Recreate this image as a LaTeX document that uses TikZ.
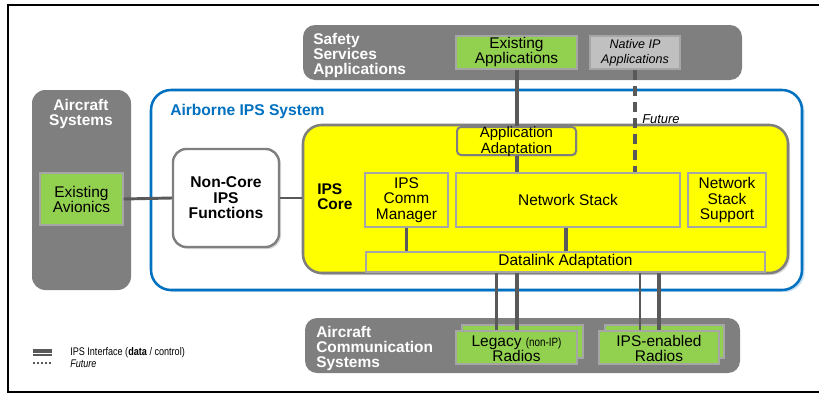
\documentclass[tikz,border=0pt]{standalone}
\usepackage{fontspec}
\setmainfont{Liberation Sans}
\newfontfamily\narrowfont[FakeStretch=0.82]{Liberation Sans}
\usetikzlibrary{fit,shadows}
\definecolor{boxgray}{HTML}{7F7F7F}
\definecolor{linegray}{HTML}{595959}
\definecolor{appgreen}{HTML}{92D050}
\definecolor{ipsblue}{HTML}{0070C0}
\definecolor{nativegray}{HTML}{C0C0C0}
\definecolor{edgegray}{HTML}{A6A6A6}
\definecolor{coreyellow}{HTML}{FFFF00}
\begin{document}
\begin{tikzpicture}[x=0.75pt,y=-0.75pt,
  area/.style={fill=boxgray, draw=none, rounded corners=8pt, inner sep=0pt},
  arealabel/.style={text=white, inner sep=0pt, align=left, font=\fontsize{11.6}{11.25}\selectfont\bfseries},
  lbl/.style={inner sep=0pt, align=center, font=\fontsize{11.6}{11.5}\selectfont},
  greenbox/.style={fill=appgreen, draw=edgegray, line width=0.8pt, inner sep=0pt},
  nativebox/.style={fill=nativegray, draw=edgegray, line width=0.8pt, inner sep=0pt},
  innerbox/.style={fill=coreyellow, draw=edgegray, line width=1pt, inner sep=0pt,
    drop shadow={opacity=0.25, shadow xshift=1pt, shadow yshift=-1pt}},
  data/.style={draw=linegray, line width=3pt},
  ctrl/.style={draw=linegray, line width=1.7pt},
  mid/.style={draw=linegray, line width=2.2pt},
  future/.style={draw=linegray, line width=3pt, dash pattern=on 7.5pt off 4.5pt}
]
\useasboundingbox (0,0) rectangle (819,396);
% frame
\draw[line width=2pt] (819,5) -- (8,5) -- (8,392) -- (819,392);

% Safety Services Applications
\node[area, rounded corners=9pt, fit={(303,25) (742,80)}] (ssa) {};
\node[arealabel, anchor=north west] (ssal) at (313,33) {Safety\\Services\\Applications};
\node[greenbox, fit={(456,36) (577,69)}] (ea) {};
\node[lbl, font=\fontsize{11.6}{11.25}\selectfont] (eal) at (ea.center) {Existing\\Applications};
\node[nativebox, fit={(590,36) (680,69)}] (nat) {};
\node[lbl, font=\fontsize{9.4}{11}\selectfont\itshape] (natl) at (nat.center) {Native IP\\Applications};

% Aircraft Systems
\node[area, rounded corners=10pt, fit={(32,90) (131,290)}] (acs) {};
\node[arealabel, align=center, anchor=north] (acsl) at (81,99.5) {Aircraft\\Systems};
\node[greenbox, fit={(40,173) (123,225)}] (av) {};
\node[lbl, font=\fontsize{11.6}{11.25}\selectfont] (avl) at (av.center) {Existing\\Avionics};

% Airborne IPS System
\node[fit={(151,90) (802,290)}, draw=ipsblue, line width=1.9pt, rounded corners=15pt, inner sep=0pt,
  drop shadow={opacity=0.35, fill=ipsblue!60, shadow xshift=2pt, shadow yshift=-1.5pt}, fill=white] (ips) {};
\node[anchor=base west, inner sep=0pt, text=ipsblue, font=\fontsize{11.7}{12}\selectfont\bfseries] (ipsl) at (170,115) {Airborne IPS System};

% Non-Core IPS Functions
\node[fit={(173,149) (279,247)}, fill=white, draw=boxgray, line width=1.8pt, rounded corners=10pt, inner sep=0pt,
  drop shadow={opacity=0.3, shadow xshift=1.5pt, shadow yshift=-1.5pt}] (nc) {};
\node[lbl, font=\fontsize{11.7}{11.6}\selectfont\bfseries] (ncl) at (nc.center) {Non-Core\\IPS\\Functions};

% IPS Core
\node[fit={(303,125) (788,273)}, fill=coreyellow, draw=boxgray, line width=1.9pt, rounded corners=14pt, inner sep=0pt,
  drop shadow={opacity=0.3, shadow xshift=1.5pt, shadow yshift=-1.5pt}] (core) {};
\node[arealabel, text=black, anchor=north west] (corel) at (317,183.5) {IPS\\Core};

\node[fit={(457,127) (576,155)}, fill=coreyellow, draw=boxgray, line width=1.5pt, rounded corners=3pt, inner sep=0pt,
  drop shadow={opacity=0.3, shadow xshift=1pt, shadow yshift=-1pt}] (aa) {};
\node[lbl, font=\fontsize{11.2}{9.8}\selectfont] (aal) at ([yshift=-0.4pt]aa.center) {Application\\Adaptation};
\node[innerbox, fit={(365,173) (448,227)}] (cm) {};
\node[lbl] (cml) at (cm.center) {IPS\\Comm\\Manager};
\node[innerbox, fit={(456,173) (680,227)}] (ns) {};
\node[lbl] (nsl) at (ns.center) {Network Stack};
\node[innerbox, fit={(688,173) (766,227)}] (nss) {};
\node[lbl] (nssl) at (nss.center) {Network\\Stack\\Support};
\node[innerbox, fit={(366,252) (765,272)}] (dl) {};
\node[lbl] (dll) at (dl.center) {Datalink Adaptation};

\node[anchor=base west, inner sep=0pt, font=\fontsize{9.7}{10}\selectfont\itshape] (fut) at (642,123) {Future};

% Aircraft Communication Systems
\node[area, rounded corners=9pt, fit={(305,318) (740,373)}] (comm) {};
\node[arealabel, anchor=north west] (comml) at (316,326) {Aircraft\\Communication\\Systems};
\node[greenbox, fit={(462,325) (583,358)}] (lrb) {};
\node[greenbox, fit={(456,331) (577,364)}] (lr) {};
\node[lbl, font=\fontsize{11.6}{11.25}\selectfont] (lrl) at ([yshift=-1pt]lr.center) {Legacy {\narrowfont\fontsize{9}{9}\selectfont(non-IP)}\\Radios};
\node[greenbox, fit={(605,325) (724,358)}] (irb) {};
\node[greenbox, fit={(599,331) (719,364)}] (ir) {};
\node[lbl, font=\fontsize{11.6}{11.25}\selectfont] (irl) at ([yshift=-1pt]ir.center) {IPS-enabled\\Radios};

% connectors
\draw[data] (ea.south) -- (aa.north);
\draw[data] (aa.south) -- (ns.north -| aa.south);
\draw[future] (nat.south) -- (ns.north -| nat.south);
\draw[mid] (av.east) -- (nc.west);
\draw[mid] (nc.east) -- (core.west |- nc.east);
\draw[mid] (cm.south) -- (cm.south |- dl.north);
\coordinate (nsb) at ([xshift=-1.5pt]ns.south);
\draw[data] (nsb) -- (nsb |- dl.north);
\coordinate (l1) at ([xshift=-15pt]lr.north);
\coordinate (l2) at (lr.north);
\coordinate (r1) at ([xshift=-14.25pt]ir.north);
\coordinate (r2) at (ir.north);
\draw[ctrl] (dl.south -| l1) -- (l1);
\draw[data] (dl.south -| l2) -- (l2);
\draw[ctrl] (dl.south -| r1) -- (r1);
\draw[data] (dl.south -| r2) -- (r2);

% legend
\draw[line width=3pt, linegray] (33,351.3) -- (52,351.3);
\draw[line width=1.4pt, linegray] (33,355.4) -- (52,355.4);
\draw[line width=1.5pt, linegray, dash pattern=on 1.6pt off 1.4pt] (33,363) -- (52,363);
\node[anchor=west, inner sep=0pt, font=\narrowfont\fontsize{8.3}{9}\selectfont] (leg1) at (70,353) {IPS Interface (\textbf{data} / control)};
\node[anchor=west, inner sep=0pt, font=\narrowfont\fontsize{8.3}{9}\selectfont\itshape] (leg2) at (70,364) {Future};
\end{tikzpicture}
\end{document}
